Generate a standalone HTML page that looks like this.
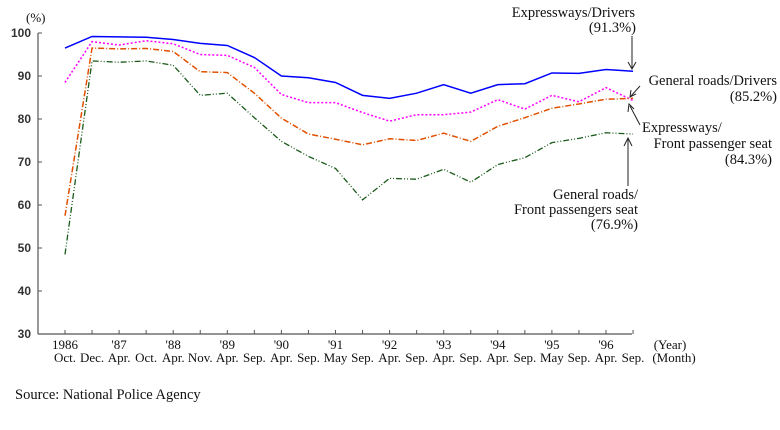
<!DOCTYPE html>
<html><head><meta charset="utf-8"><style>
body{margin:0;background:#fff}
svg{display:block}
text{font-family:"Liberation Serif",serif;fill:#111}
.ax{font-family:"Liberation Sans",sans-serif;font-weight:bold;font-size:12px;fill:#333}
</style></head><body>
<svg id="s" width="780" height="430" viewBox="0 0 780 430" xmlns="http://www.w3.org/2000/svg">
<rect width="780" height="430" fill="#fff"/>
<g id="g"></g>
<text x="26" y="22" font-size="13">(%)</text>
<text x="635" y="17" font-size="14.5" text-anchor="end">Expressways/Drivers</text>
<text x="636" y="32" font-size="14.5" text-anchor="end">(91.3%)</text>
<text x="777" y="85" font-size="14.5" text-anchor="end">General roads/Drivers</text>
<text x="777" y="101" font-size="14.5" text-anchor="end">(85.2%)</text>
<text x="642" y="132" font-size="14.5">Expressways/</text>
<text x="772" y="148" font-size="14.5" text-anchor="end">Front passenger seat</text>
<text x="772" y="164" font-size="14.5" text-anchor="end">(84.3%)</text>
<text x="638" y="199" font-size="14.5" text-anchor="end">General roads/</text>
<text x="638" y="214" font-size="14.5" text-anchor="end">Front passengers seat</text>
<text x="638" y="229" font-size="14.5" text-anchor="end">(76.9%)</text>
<text x="15" y="399" font-size="14.5">Source: National Police Agency</text>
<text x="670" y="349" font-size="13" text-anchor="middle">(Year)</text>
<text x="674" y="362" font-size="13" text-anchor="middle">(Month)</text>
<g stroke="#222" stroke-width="1" fill="none">
<line x1="632" y1="36" x2="632" y2="68"/><path d="M628,62 L632,69 L636,62"/>
<line x1="640" y1="86" x2="631" y2="96"/><path d="M631,90 L630,97 L636,94"/>
<line x1="640" y1="125" x2="630" y2="106"/><path d="M628,112 L629,104 L634,109"/>
<line x1="628" y1="186" x2="628" y2="139"/><path d="M624,146 L628,138 L632,146"/>
</g>
</svg>
<script>
const g=document.getElementById('g');const NS='http://www.w3.org/2000/svg';
function el(t,a,txt){const e=document.createElementNS(NS,t);for(const k in a)e.setAttribute(k,a[k]);if(txt)e.textContent=txt;g.appendChild(e);return e;}
const Y=v=>334-(v-30)*4.3, X=i=>65+27.05*i;
el('line',{x1:38,y1:33,x2:38,y2:334,stroke:'#555','stroke-width':1.2});
el('line',{x1:38,y1:334,x2:632,y2:334,stroke:'#555','stroke-width':1.2});
for(let v=30;v<=100;v+=10){el('line',{x1:38,y1:Y(v),x2:42,y2:Y(v),stroke:'#555'});el('text',{x:31,y:Y(v)+4,'text-anchor':'end',class:'ax'},String(v));}
const mon=['Oct.','Dec.','Apr.','Oct.','Apr.','Nov.','Apr.','Sep.','Apr.','Sep.','May','Sep.','Apr.','Sep.','Apr.','Sep.','Apr.','Sep.','May','Sep.','Apr.','Sep.'];
const yr={0:'1986',2:"'87",4:"'88",6:"'89",8:"'90",10:"'91",12:"'92",14:"'93",16:"'94",18:"'95",20:"'96"};
for(let i=0;i<22;i++){const x=X(i);el('line',{x1:x,y1:330,x2:x,y2:334,stroke:'#555'});
el('text',{x:x,y:362,'text-anchor':'middle','font-size':13},mon[i]);
if(yr[i])el('text',{x:x,y:349,'text-anchor':'middle','font-size':13},yr[i]);}
const S=[
['#00f','',1.5,[96.5,99.2,99.1,99,98.5,97.6,97.1,94.3,90,89.6,88.5,85.5,84.8,86,88,86,88,88.2,90.7,90.6,91.5,91.1]],
['#f0f','2,2',1.5,[88.5,98,97.2,98.2,97.5,95,94.8,92,85.7,83.8,83.8,81.5,79.5,81,81,81.6,84.5,82.3,85.5,84,87.3,84.3]],
['#e05000','6,2,1,2',1.5,[57.5,96.5,96.3,96.4,95.7,91,90.8,86,80.2,76.5,75.3,74,75.4,75,76.7,74.8,78.3,80.3,82.5,83.5,84.6,84.8]],
['#1a5a1a','6,2,1,2,1,2',1.3,[48.5,93.5,93.2,93.5,92.5,85.5,86,80.3,74.8,71.3,68.5,61.2,66.2,66,68.3,65.3,69.4,71,74.5,75.5,76.8,76.5]]];
for(const [c,d,w,a] of S)el('polyline',{points:a.map((v,i)=>X(i)+','+Y(v)).join(' '),fill:'none',stroke:c,'stroke-width':w,'stroke-dasharray':d});
</script>
</body></html>
